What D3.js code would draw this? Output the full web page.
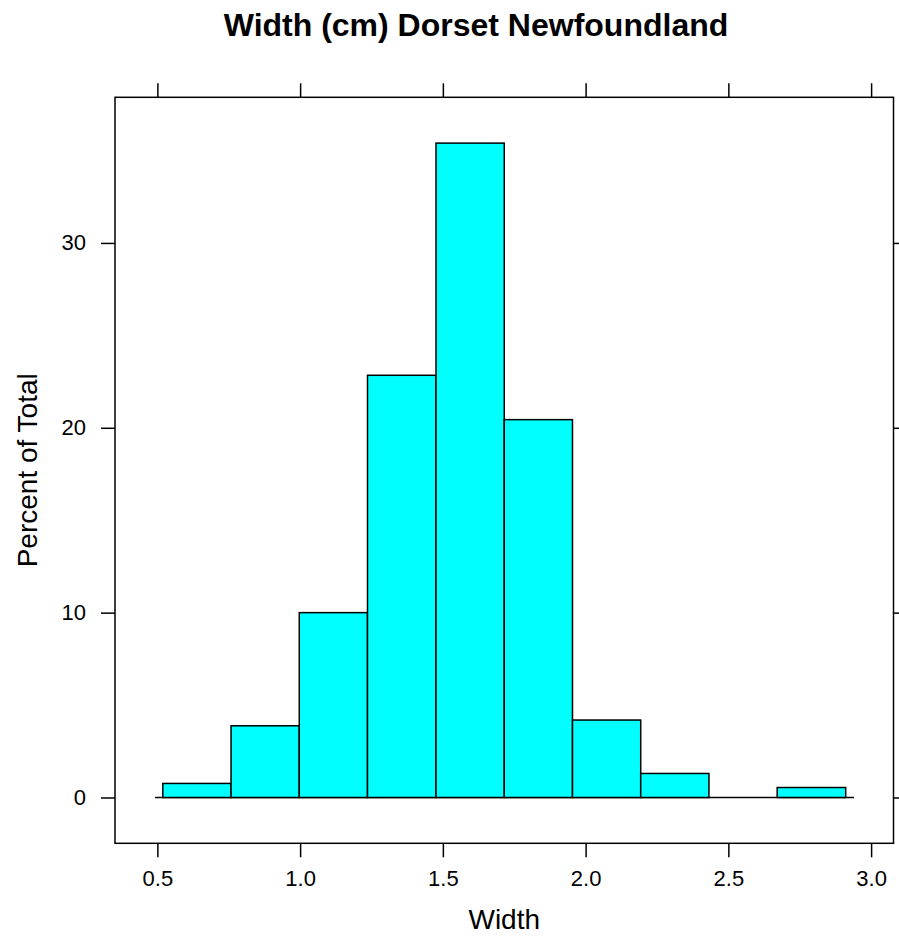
<!DOCTYPE html>
<html><head><meta charset="utf-8">
<script src="https://cdn.jsdelivr.net/npm/d3@7"></script>
<style>
body{margin:0;background:#fff}
text{font-family:"Liberation Sans",Arial,Helvetica,sans-serif;fill:#000}
</style>
</head><body><svg id="chart" width="899" height="941"></svg>
<script>
// ---- data ----
const breaks = [0.519, 0.758, 0.997, 1.236, 1.476, 1.715, 1.954, 2.193, 2.432, 2.671, 2.911];
const percents = [0.76, 3.88, 10.0, 22.84, 35.40, 20.44, 4.19, 1.30, 0, 0.54];
const xTicks = [0.5, 1.0, 1.5, 2.0, 2.5, 3.0];
const yTicks = [0, 10, 20, 30];
const dataRange = [0.492, 2.94];
const titleText = "Width (cm) Dorset Newfoundland";
const xLabelText = "Width";
const yLabelText = "Percent of Total";

// ---- layout ----
const W = 899, H = 941;
const panel = {left: 115, right: 893.5, top: 97.3, bottom: 843.3};
const pad = 0.07;
const svg = d3.select("#chart");
svg.append("rect").attr("width", W).attr("height", H).attr("fill", "#fff");

const bx = d3.extent(breaks), dx = (bx[1] - bx[0]) * pad;
const x = d3.scaleLinear().domain([bx[0] - dx, bx[1] + dx]).range([panel.left, panel.right]);
const ymax = d3.max(percents), dy = ymax * pad;
const y = d3.scaleLinear().domain([-dy, ymax + dy]).range([panel.bottom, panel.top]);

const bins = percents.map((p, i) => ({x0: breaks[i], x1: breaks[i + 1], p}));

// baseline
svg.append("line")
  .attr("x1", x(dataRange[0])).attr("x2", x(dataRange[1]))
  .attr("y1", y(0)).attr("y2", y(0))
  .attr("stroke", "#000").attr("stroke-width", 1.5);

// bars
svg.append("g").selectAll("rect").data(bins).join("rect")
  .attr("x", d => x(d.x0))
  .attr("width", d => x(d.x1) - x(d.x0))
  .attr("y", d => y(d.p))
  .attr("height", d => y(0) - y(d.p))
  .attr("fill", "#00FFFF")
  .attr("stroke", "#000")
  .attr("stroke-width", 1.5);

// axes
const tickLen = 14;
function styleAxis(g) {
  g.select(".domain").remove();
  g.selectAll(".tick line").attr("stroke", "#000").attr("stroke-width", 1.5);
  g.selectAll(".tick text").attr("font-size", 22).attr("fill", "#000")
    .attr("font-family", "'Liberation Sans',Arial,Helvetica,sans-serif");
}
svg.append("g").attr("transform", `translate(0,${panel.bottom})`)
  .call(d3.axisBottom(x).tickValues(xTicks).tickSize(tickLen).tickPadding(13).tickFormat(d3.format(".1f")))
  .call(styleAxis);
svg.append("g").attr("transform", `translate(0,${panel.top})`)
  .call(d3.axisTop(x).tickValues(xTicks).tickSize(tickLen).tickFormat(""))
  .call(styleAxis);
svg.append("g").attr("transform", `translate(${panel.left},0)`)
  .call(d3.axisLeft(y).tickValues(yTicks).tickSize(tickLen).tickPadding(15).tickFormat(d3.format("d")))
  .call(styleAxis);
svg.append("g").attr("transform", `translate(${panel.right},0)`)
  .call(d3.axisRight(y).tickValues(yTicks).tickSize(tickLen).tickFormat(""))
  .call(styleAxis);

// panel border
svg.append("rect")
  .attr("x", panel.left).attr("y", panel.top)
  .attr("width", panel.right - panel.left).attr("height", panel.bottom - panel.top)
  .attr("fill", "none").attr("stroke", "#000").attr("stroke-width", 1.5);

// titles
svg.append("text").attr("x", 476).attr("y", 36)
  .attr("text-anchor", "middle").attr("font-size", 32).attr("font-weight", "bold")
  .text(titleText);
svg.append("text").attr("x", (panel.left + panel.right) / 2).attr("y", 929)
  .attr("text-anchor", "middle").attr("font-size", 28)
  .text(xLabelText);
svg.append("text")
  .attr("transform", `translate(37,${(panel.top + panel.bottom) / 2}) rotate(-90)`)
  .attr("text-anchor", "middle").attr("font-size", 28)
  .text(yLabelText);
</script>
</body></html>
